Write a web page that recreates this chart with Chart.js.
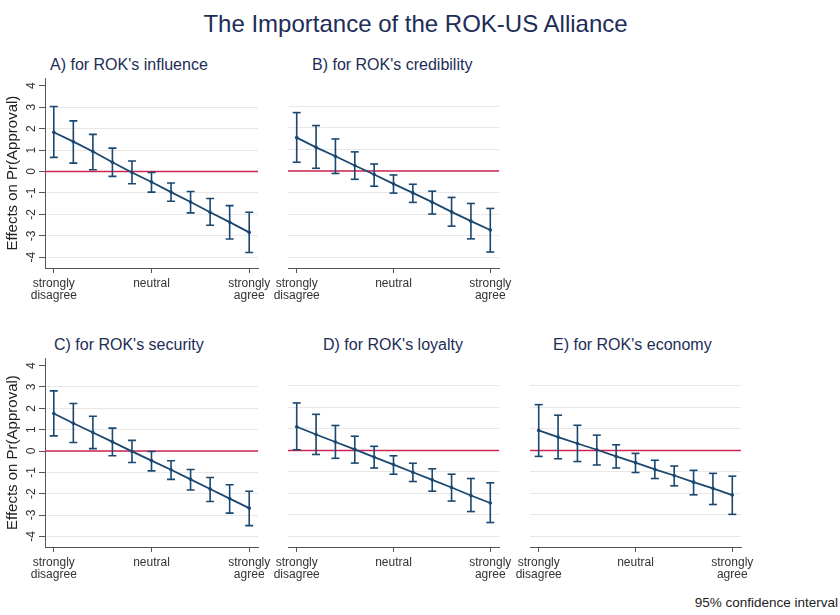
<!DOCTYPE html>
<html><head><meta charset="utf-8">
<script src="https://cdn.jsdelivr.net/npm/chart.js@4.4.1/dist/chart.umd.min.js"></script>
<style>
html,body{margin:0;padding:0;background:#fff;}
#wrap{position:relative;width:840px;height:615px;overflow:hidden;background:#fff;font-family:"Liberation Sans",Arial,sans-serif;}
.txt{position:absolute;white-space:nowrap;line-height:1;}
canvas{position:absolute;}
</style></head><body>
<div id="wrap">
 <div class="txt" style="left:0;width:831px;text-align:center;top:12px;font-size:24px;color:#1c2d57">The Importance of the ROK-US Alliance</div>
 <div class="txt" style="left:50px;top:57px;font-size:16px;color:#1c2d57">A) for ROK's influence</div>
 <div class="txt" style="left:312px;top:57px;font-size:16px;color:#1c2d57">B) for ROK's credibility</div>
 <div class="txt" style="left:54px;top:337px;font-size:16px;color:#1c2d57">C) for ROK's security</div>
 <div class="txt" style="left:323px;top:337px;font-size:16px;color:#1c2d57">D) for ROK's loyalty</div>
 <div class="txt" style="left:553px;top:337px;font-size:16px;color:#1c2d57">E) for ROK's economy</div>
 <div class="txt" style="right:2px;top:596px;font-size:13.5px;color:#222">95% confidence interval</div>
</div>
<script>
const categories = [0,1,2,3,4,5,6,7,8,9,10];
const xTickValues = [0,5,10];
const xTickLabels = [["strongly","disagree"],"neutral",["strongly","agree"]];
const yTickValues = [-4,-3,-2,-1,0,1,2,3,4];
const yTickLabels = ["-4","-3","-2","-1","0","1","2","3","4"];
const yAxisTitle = "Effects on Pr(Approval)";
const referenceValue = 0;

const influenceEst  = [1.83, 1.39, 0.93, 0.43, -0.05, -0.49, -0.96, -1.42, -1.90, -2.36, -2.84];
const influenceLow  = [0.66, 0.39, 0.08, -0.23, -0.57, -0.96, -1.39, -1.93, -2.51, -3.15, -3.78];
const influenceHigh = [3.03, 2.36, 1.73, 1.09, 0.49, -0.05, -0.54, -0.93, -1.26, -1.59, -1.90];

const credibilityEst  = [1.54, 1.09, 0.68, 0.25, -0.17, -0.60, -1.02, -1.45, -1.90, -2.33, -2.74];
const credibilityLow  = [0.40, 0.12, -0.12, -0.39, -0.71, -1.03, -1.46, -2.00, -2.56, -3.15, -3.76];
const credibilityHigh = [2.70, 2.10, 1.48, 0.88, 0.32, -0.19, -0.62, -0.94, -1.23, -1.51, -1.74];

const securityEst  = [1.76, 1.30, 0.87, 0.43, -0.02, -0.45, -0.88, -1.33, -1.78, -2.23, -2.68];
const securityLow  = [0.71, 0.40, 0.11, -0.22, -0.54, -0.93, -1.33, -1.83, -2.37, -2.91, -3.50];
const securityHigh = [2.82, 2.23, 1.63, 1.07, 0.50, -0.02, -0.46, -0.87, -1.24, -1.58, -1.89];

const loyaltyEst  = [1.10, 0.74, 0.39, 0.05, -0.31, -0.66, -1.02, -1.37, -1.73, -2.10, -2.45];
const loyaltyLow  = [0.03, -0.19, -0.37, -0.59, -0.82, -1.11, -1.45, -1.90, -2.36, -2.85, -3.36];
const loyaltyHigh = [2.21, 1.68, 1.16, 0.66, 0.19, -0.25, -0.60, -0.86, -1.11, -1.31, -1.51];

const economyEst  = [0.93, 0.62, 0.32, 0.03, -0.28, -0.57, -0.88, -1.17, -1.48, -1.77, -2.08];
const economyLow  = [-0.28, -0.39, -0.52, -0.68, -0.82, -1.03, -1.31, -1.65, -2.07, -2.52, -2.98];
const economyHigh = [2.13, 1.64, 1.17, 0.71, 0.26, -0.14, -0.46, -0.73, -0.93, -1.07, -1.20];

const NAVY = '#1a476f';
const RED = '#cf2352';
Chart.defaults.font.family = '"Liberation Sans", Arial, sans-serif';

const refLinePlugin = {
  id: 'refLine',
  beforeDatasetsDraw(chart) {
    const {ctx, chartArea} = chart;
    const y = chart.scales.y.getPixelForValue(referenceValue);
    ctx.save();
    ctx.strokeStyle = RED; ctx.lineWidth = 1.5;
    ctx.beginPath(); ctx.moveTo(chartArea.left, y); ctx.lineTo(chartArea.right, y); ctx.stroke();
    ctx.restore();
  }
};

const panels = [
  {est: influenceEst, low: influenceLow, high: influenceHigh, showY: true, area: {left:45, right:258, top:77, bottom:268}},
  {est: credibilityEst, low: credibilityLow, high: credibilityHigh, showY: false, area: {left:288, right:499, top:77, bottom:268}},
  {est: securityEst, low: securityLow, high: securityHigh, showY: true, area: {left:45, right:258, top:357, bottom:547}},
  {est: loyaltyEst, low: loyaltyLow, high: loyaltyHigh, showY: false, area: {left:288, right:499, top:357, bottom:547}},
  {est: economyEst, low: economyLow, high: economyHigh, showY: false, area: {left:530, right:741, top:357, bottom:547}}
];

const wrap = document.getElementById('wrap');
function makeChart(p) {
  const yW = p.showY ? 45 : 20;
  const padTop = 8, padRight = 22, xH = 52;
  const cLeft = p.area.left - yW, cTop = p.area.top - padTop;
  const cW = p.area.right + padRight - cLeft, cH = p.area.bottom + xH - cTop;
  const cv = document.createElement('canvas');
  cv.width = cW; cv.height = cH;
  cv.style.left = cLeft + 'px'; cv.style.top = cTop + 'px';
  cv.style.width = cW + 'px'; cv.style.height = cH + 'px';
  wrap.appendChild(cv);
  const barData = [];
  categories.forEach((c, i) => { barData.push({x: c, y: p.low[i]}, {x: c, y: p.high[i]}, {x: c, y: null}); });
  new Chart(cv, {
    type: 'line',
    data: {datasets: [
      {data: categories.map((c, i) => ({x: c, y: p.est[i]})), borderColor: NAVY, borderWidth: 1.8,
       pointRadius: 1.8, pointBackgroundColor: NAVY, pointBorderWidth: 0, tension: 0},
      {data: barData, borderColor: NAVY, borderWidth: 1.6, pointStyle: 'line', pointRadius: 4,
       pointBorderColor: NAVY, pointBorderWidth: 1.6, spanGaps: false}
    ]},
    options: {
      responsive: false, animation: false, devicePixelRatio: 1,
      layout: {padding: {left: 0, top: padTop, right: padRight, bottom: 0}},
      plugins: {legend: {display: false}, tooltip: {enabled: false}},
      scales: {
        x: {type: 'linear', min: -0.45, max: 10.45,
          afterBuildTicks: ax => { ax.ticks = xTickValues.map(v => ({value: v})); },
          afterFit: ax => { ax.height = xH; },
          ticks: {callback: (v, i) => xTickLabels[i], maxRotation: 0, minRotation: 0, autoSkip: false,
                  padding: 4, color: '#333', font: {size: 12, lineHeight: 1.05}},
          grid: {drawOnChartArea: false, drawTicks: true, tickLength: 5, tickColor: '#555', tickWidth: 1},
          border: {display: true, color: '#555', width: 1}
        },
        y: {type: 'linear', min: -4.5, max: 4.35,
          afterBuildTicks: ax => { ax.ticks = yTickValues.map(v => ({value: v})); },
          afterFit: ax => { ax.width = yW; },
          ticks: {display: p.showY, callback: (v, i) => yTickLabels[i], minRotation: 90, maxRotation: 90,
                  crossAlign: 'center', padding: 2, color: '#333', font: {size: 12}},
          grid: {color: ctx => (ctx.tick && ctx.tick.value === 4) ? 'rgba(0,0,0,0)' : '#e8e8e8',
                 lineWidth: 1, drawTicks: p.showY, tickLength: 6, tickColor: '#555'},
          border: {display: p.showY, color: '#555', width: 1},
          title: {display: p.showY, text: yAxisTitle, color: '#222', font: {size: 15}, padding: {top: 4, bottom: 0}}
        }
      }
    },
    plugins: [refLinePlugin]
  });
}
panels.forEach(makeChart);
</script>
</body></html>
